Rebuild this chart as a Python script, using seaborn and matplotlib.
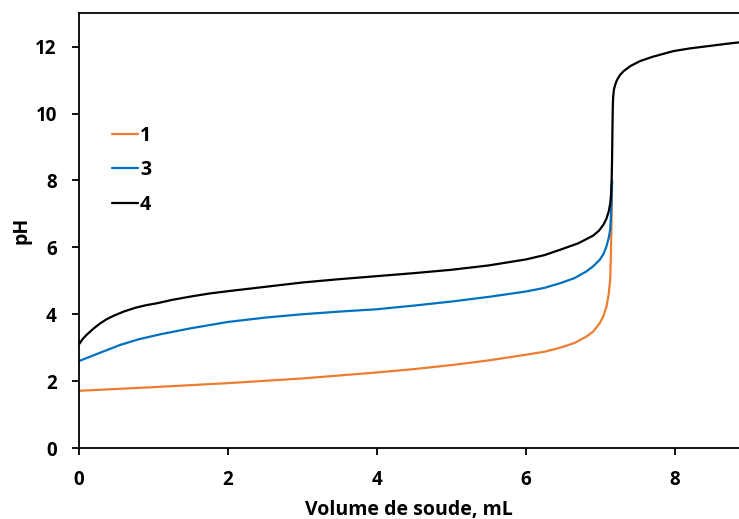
import numpy as np
import pandas as pd
import matplotlib
matplotlib.use("Agg")
import matplotlib.pyplot as plt
import seaborn as sns

# Series 1 (orange)
v1 = [0, 1, 2, 3, 4, 4.5, 5, 5.5, 6, 6.25, 6.46, 6.65, 6.81, 6.9, 6.99, 7.04, 7.08, 7.11,
      7.13, 7.14, 7.15, 7.155]
ph1 = [1.71, 1.82, 1.94, 2.08, 2.26, 2.36, 2.48, 2.62, 2.79, 2.88, 3.0, 3.14, 3.33, 3.48,
       3.73, 3.95, 4.23, 4.6, 5.03, 5.83, 7.0, 8.0]

# Series 3 (blue)
v3 = [0, 0.25, 0.55, 0.8, 1.09, 1.5, 2.0, 2.5, 3.0, 3.5, 4.0, 4.5, 5.0, 5.5, 6.0, 6.25,
      6.46, 6.65, 6.81, 6.9, 6.99, 7.04, 7.08, 7.11, 7.13, 7.14, 7.15, 7.155]
ph3 = [2.6, 2.82, 3.08, 3.25, 3.4, 3.58, 3.77, 3.9, 4.0, 4.08, 4.15, 4.26, 4.38, 4.52, 4.68,
       4.79, 4.93, 5.08, 5.28, 5.43, 5.63, 5.8, 6.03, 6.28, 6.53, 6.93, 7.5, 8.0]

# Series 4 (black)
v4 = [0, 0.05, 0.1, 0.15, 0.2, 0.28, 0.37, 0.46, 0.6, 0.75, 0.9, 1.05, 1.25, 1.5, 1.75, 2.0,
      2.5, 3.0, 3.5, 4.0, 4.5, 5.0, 5.5, 6.0, 6.25, 6.46, 6.7, 6.9, 6.98, 7.04, 7.08, 7.11,
      7.13, 7.14, 7.15, 7.155, 7.16, 7.165, 7.17, 7.18, 7.2, 7.22, 7.26, 7.31, 7.4, 7.53,
      7.7, 7.98, 8.2, 8.45, 8.7, 8.9]
ph4 = [3.1, 3.26, 3.38, 3.48, 3.58, 3.72, 3.85, 3.95, 4.08, 4.19, 4.27, 4.33, 4.43, 4.53,
       4.62, 4.69, 4.82, 4.95, 5.05, 5.14, 5.23, 5.33, 5.46, 5.64, 5.77, 5.93, 6.12, 6.35,
       6.5, 6.68, 6.86, 7.07, 7.3, 7.52, 8.02, 8.6, 9.5, 10.2, 10.5, 10.72, 10.88, 11.0,
       11.15, 11.27, 11.42, 11.57, 11.7, 11.87, 11.95, 12.02, 12.09, 12.14]

labels = ["1", "3", "4"]
colors = ["#ED7D31", "#0070C0", "#000000"]
x_ticks = [0, 2, 4, 6, 8]
y_ticks = [0, 2, 4, 6, 8, 10, 12]

df = pd.concat([
    pd.DataFrame({"v": v1, "pH": ph1, "serie": labels[0]}),
    pd.DataFrame({"v": v3, "pH": ph3, "serie": labels[1]}),
    pd.DataFrame({"v": v4, "pH": ph4, "serie": labels[2]}),
], ignore_index=True)

sns.set_theme(style="white")
plt.rcParams["font.family"] = ["Open Sans", "DejaVu Sans"]
plt.rcParams["font.weight"] = "bold"
plt.rcParams["text.color"] = "black"

fig = plt.figure(figsize=(7.39, 5.19), dpi=100)
ax = fig.add_axes([79 / 739, 1 - 448 / 519, 1 - 79 / 739, (448 - 13.3) / 519])

sns.lineplot(data=df, x="v", y="pH", hue="serie", palette=dict(zip(labels, colors)),
             sort=False, estimator=None, linewidth=1.6, ax=ax)

ax.set_xlim(0, (739 - 79) / 74.5)
ax.set_ylim(0, 13)
ax.set_xticks(x_ticks)
ax.set_yticks(y_ticks)
ax.tick_params(axis="both", direction="out", length=5, width=1.3, color="black",
               labelsize=13.5, labelcolor="black",
               bottom=True, left=True, top=False, right=False)
ax.tick_params(axis="x", pad=11)
ax.tick_params(axis="y", pad=11)
for lab in ax.get_xticklabels() + ax.get_yticklabels():
    lab.set_fontweight("bold")
for side in ["left", "bottom", "top"]:
    ax.spines[side].set_color("black")
    ax.spines[side].set_linewidth(1.3)
ax.spines["right"].set_visible(False)

ax.set_xlabel("Volume de soude, mL", fontsize=14, fontweight="bold", color="black", labelpad=7)
ax.set_ylabel("pH", fontsize=14, fontweight="bold", color="black", labelpad=3)

leg = ax.legend(loc="upper left", bbox_to_anchor=(0.024, 0.782), frameon=False,
                handlelength=1.3, handletextpad=0.12, labelspacing=0.75,
                prop={"weight": "bold", "size": 14}, title=None)
for line in leg.get_lines():
    line.set_linewidth(1.6)
for t in leg.get_texts():
    t.set_color("black")

fig.savefig("out.png", dpi=100)
